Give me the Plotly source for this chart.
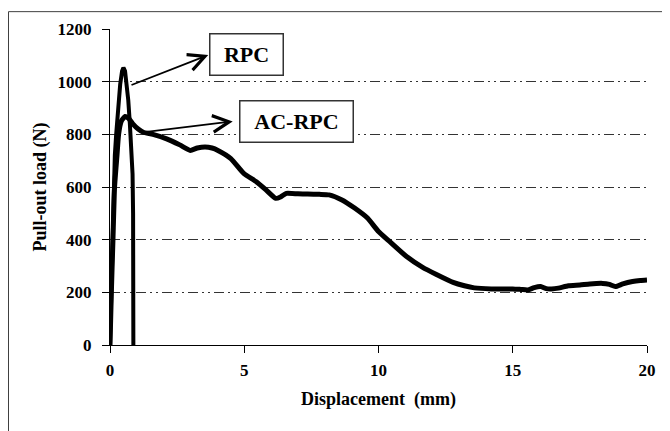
import plotly.graph_objects as go

# Data
rpc_x = [0, 0.04, 0.08, 0.13, 0.18, 0.23, 0.30, 0.38, 0.45, 0.50, 0.56, 0.62, 0.68, 0.74, 0.79, 0.84, 0.86, 0.87, 0.87]
rpc_y = [0, 200, 400, 600, 720, 800, 900, 990, 1040, 1053, 1040, 995, 930, 840, 750, 650, 500, 250, 0]

ac_x = [0, 0.05, 0.11, 0.17, 0.26, 0.32, 0.42, 0.56, 0.68, 0.85, 1.05, 1.24, 1.6, 2.11, 2.6, 2.99,
        3.25, 3.54, 3.8, 4.02, 4.5, 4.98, 5.45, 5.8, 6.17, 6.35, 6.57, 7.0, 7.36, 7.8, 8.16, 8.64,
        9.11, 9.59, 9.99, 10.39, 11.02, 11.66, 12.14, 12.78, 13.2, 13.57, 14.2, 15.0, 15.3, 15.56,
        15.8, 16.04, 16.25, 16.44, 16.7, 17.07, 17.5, 17.87, 18.35, 18.6, 18.82, 19.1, 19.46, 19.75, 20]
ac_y = [0, 200, 400, 600, 720, 800, 850, 868, 862, 840, 820, 808, 800, 783, 760, 739,
        748, 752, 748, 739, 708, 652, 620, 590, 557, 562, 576, 574, 573, 572, 570, 551,
        520, 482, 432, 395, 338, 294, 269, 238, 225, 217, 213, 213, 211, 209,
        218, 222, 214, 213, 216, 225, 228, 232, 234, 230, 222, 232, 241, 245, 247]

x_ticks = [0, 5, 10, 15, 20]
y_ticks = [0, 200, 400, 600, 800, 1000, 1200]

FONT = "Times New Roman, Liberation Serif, serif"

fig = go.Figure()
fig.add_trace(go.Scatter(x=rpc_x, y=rpc_y, mode="lines", name="RPC",
                         line=dict(color="black", width=4)))
fig.add_trace(go.Scatter(x=ac_x, y=ac_y, mode="lines", name="AC-RPC",
                         line=dict(color="black", width=5, shape="spline", smoothing=0.5)))

grid_dash = "10px,4px,2px,4px,2px,4px"

fig.update_layout(
    width=662, height=423,
    margin=dict(l=102, r=23, t=18, b=86),
    paper_bgcolor="white", plot_bgcolor="white",
    showlegend=False,
    font=dict(family=FONT, color="black", size=17, weight="bold"),
    xaxis=dict(range=[0, 20], tickvals=x_ticks, ticktext=[str(v) for v in x_ticks],
               showgrid=False, zeroline=False, showline=True, linecolor="black", linewidth=1,
               ticks="outside", ticklen=7, tickcolor="black", ticklabelstandoff=3,
               tickfont=dict(family=FONT, size=17, color="black", weight="bold"),
               title=dict(text="Displacement  (mm)", standoff=12,
                          font=dict(family=FONT, size=18, color="black", weight="bold"))),
    yaxis=dict(range=[0, 1200], tickvals=y_ticks, ticktext=[str(v) for v in y_ticks],
               showgrid=True, gridcolor="#333333", gridwidth=1, griddash=grid_dash,
               zeroline=False, showline=True, linecolor="black", linewidth=1,
               ticks="outside", ticklen=7, tickcolor="black", ticklabelstandoff=7,
               tickfont=dict(family=FONT, size=17, color="black", weight="bold"),
               title=dict(text="Pull-out load (N)", standoff=6,
                          font=dict(family=FONT, size=18, color="black", weight="bold"))),
)

# Outer frame
fig.add_shape(type="rect", xref="paper", yref="paper",
              x0=-0.189, x1=1.0354, y0=-0.32, y1=1.0549,
              line=dict(color="#404040", width=1), fillcolor="rgba(0,0,0,0)", layer="below")

# Labels with arrows
fig.add_annotation(x=3.66, y=1101, ax=0.745, ay=985, xref="x", yref="y", axref="x", ayref="y",
                   text="", showarrow=True, arrowhead=5, arrowsize=1.8, arrowwidth=1.8, arrowcolor="black")
fig.add_annotation(x=4.57, y=849, ax=1.30, ay=809, xref="x", yref="y", axref="x", ayref="y",
                   text="", showarrow=True, arrowhead=5, arrowsize=1.8, arrowwidth=1.8, arrowcolor="black")

fig.add_annotation(x=5.09, y=1102, xref="x", yref="y", text="RPC", showarrow=False,
                   width=72, height=40, bordercolor="#333333", borderwidth=1.5, borderpad=0,
                   bgcolor="white", font=dict(family=FONT, size=22, color="black", weight="bold"))
fig.add_annotation(x=6.95, y=850, xref="x", yref="y", text="AC-RPC", showarrow=False,
                   width=112, height=40, bordercolor="#333333", borderwidth=1.5, borderpad=0,
                   bgcolor="white", font=dict(family=FONT, size=22, color="black", weight="bold"))

fig.write_html("out.html")
